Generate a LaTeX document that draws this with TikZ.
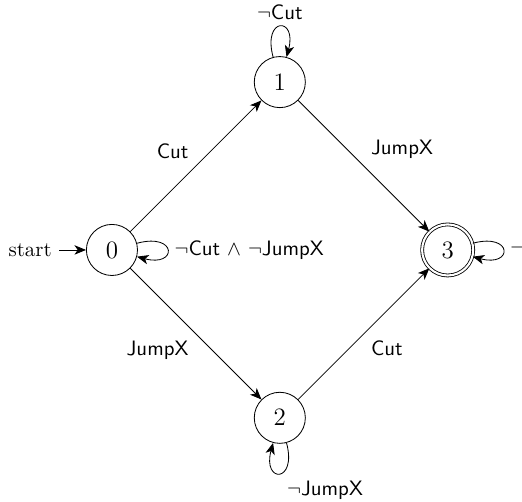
\documentclass[tikz,border=0pt]{standalone}
\usetikzlibrary{arrows.meta,positioning}

\begin{document}
\begin{tikzpicture}[>={Stealth[length=5.5pt,width=4.5pt,inset=1.5pt]}, auto,
  state/.style={draw, circle, minimum size=24.5pt, inner sep=0pt, font=\large},
  accept/.style={state, double, double distance=1pt}]

\useasboundingbox (-53.7pt,-120.9pt) rectangle (196.7pt,119.9pt);

\node[state] (q0) at (0,0) {$0$};
\node[state] (q1) at (2.83,2.83) {$1$};
\node[state] (q2) at (2.83,-2.83) {$2$};
\node[accept] (q3) at (5.66,0) {$3$};

\node[left=3ex of q0] (start) {start};
\draw[->] (start) -- (q0);

\draw[->] (q0) -- node {\textsf{Cut}} (q1);
\draw[->] (q1) -- node {\textsf{JumpX}} (q3);
\draw[->] (q0) -- node[swap] {\textsf{JumpX}} (q2);
\draw[->] (q2) -- node[swap] {\textsf{Cut}} (q3);

\draw[->] (q0) to[loop right] node[right] {$\neg$\textsf{Cut} $\wedge$ $\neg$\textsf{JumpX}} (q0);
\draw[->] (q1) to[loop above] node[above] {$\neg$\textsf{Cut}} (q1);
\draw[->] (q2) to[loop below] node[below right] {$\neg$\textsf{JumpX}} (q2);
\draw[->] (q3) to[loop right] node[right] {$\neg$} (q3);

\end{tikzpicture}
\end{document}
